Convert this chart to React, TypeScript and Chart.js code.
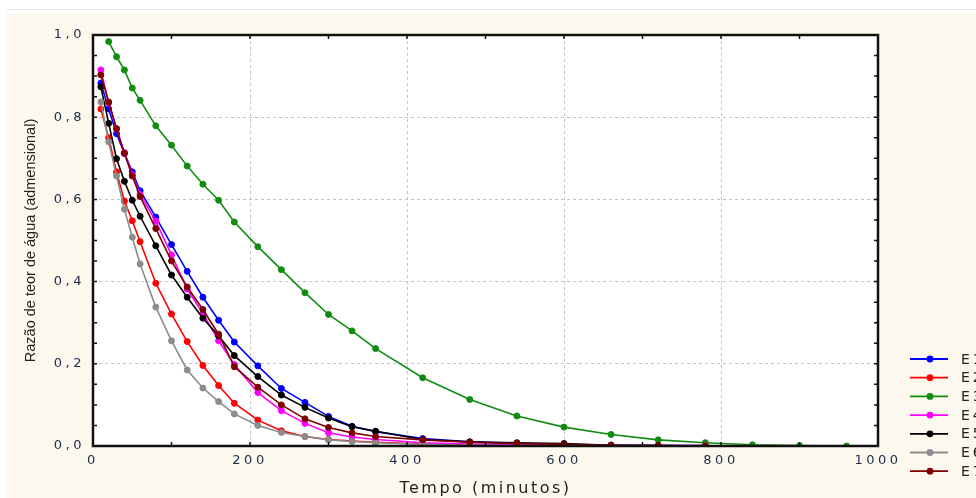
import React, { useEffect, useRef } from 'react';
import { Chart, registerables } from 'chart.js';

Chart.register(...registerables);

// ---------- data ----------
const seriesNames = ['E1', 'E2', 'E3', 'E4', 'E5', 'E6', 'E7'];
const seriesColors = ['#0000ff', '#ff0000', '#118c11', '#ff00ff', '#000000', '#8c8c8c', '#7f0000'];

const timesMain = [10, 20, 30, 40, 50, 60, 80, 100, 120, 140, 160, 180, 210, 240, 270, 300, 330, 360, 420, 480, 540, 600, 660, 720, 780];
const timesE3 = [20, 30, 40, 50, 60, 80, 100, 120, 140, 160, 180, 210, 240, 270, 300, 330, 360, 420, 480, 540, 600, 660, 720, 780, 840, 900, 960];

const e1 = [0.883, 0.82, 0.76, 0.712, 0.667, 0.621, 0.557, 0.49, 0.425, 0.362, 0.306, 0.253, 0.195, 0.14, 0.106, 0.072, 0.048, 0.035, 0.018, 0.01, 0.006, 0.004, 0.002, 0.001, 0.001];
const e2 = [0.82, 0.75, 0.667, 0.596, 0.548, 0.497, 0.396, 0.321, 0.254, 0.196, 0.147, 0.104, 0.063, 0.037, 0.023, 0.016, 0.012, 0.009, 0.005, 0.003, 0.002, 0.001, 0.001, 0.0, 0.0];
const e3 = [0.984, 0.947, 0.915, 0.871, 0.841, 0.779, 0.732, 0.681, 0.637, 0.598, 0.545, 0.485, 0.429, 0.373, 0.32, 0.28, 0.237, 0.166, 0.113, 0.073, 0.046, 0.028, 0.015, 0.008, 0.003, 0.001, 0.0];
const e4 = [0.915, 0.835, 0.772, 0.714, 0.66, 0.612, 0.547, 0.465, 0.382, 0.322, 0.256, 0.198, 0.13, 0.086, 0.055, 0.032, 0.022, 0.016, 0.008, 0.005, 0.003, 0.002, 0.001, 0.001, 0.001];
const e5 = [0.874, 0.785, 0.699, 0.644, 0.598, 0.559, 0.487, 0.416, 0.362, 0.311, 0.268, 0.22, 0.169, 0.124, 0.094, 0.068, 0.047, 0.036, 0.016, 0.01, 0.008, 0.006, 0.002, 0.001, 0.0];
const e6 = [0.837, 0.74, 0.657, 0.576, 0.508, 0.443, 0.338, 0.256, 0.185, 0.141, 0.108, 0.078, 0.05, 0.033, 0.023, 0.015, 0.011, 0.008, 0.004, 0.002, 0.001, 0.001, 0.0, 0.0, 0.0];
const e7 = [0.903, 0.837, 0.772, 0.712, 0.657, 0.607, 0.529, 0.45, 0.387, 0.332, 0.272, 0.193, 0.143, 0.1, 0.066, 0.045, 0.032, 0.023, 0.015, 0.009, 0.006, 0.004, 0.002, 0.001, 0.0];

const seriesValues = [e1, e2, e3, e4, e5, e6, e7];
const seriesTimes = [timesMain, timesMain, timesE3, timesMain, timesMain, timesMain, timesMain];

const xTickLabels = ['0', '200', '400', '600', '800', '1000'];
const yTickLabels = ['0,0', '0,2', '0,4', '0,6', '0,8', '1,0'];
const xMinorTicks = [100, 200, 300, 400, 500, 600, 700, 800, 900];
const yMinorTicks = [0.05, 0.1, 0.15, 0.2, 0.25, 0.3, 0.35, 0.4, 0.45, 0.5, 0.55, 0.6, 0.65, 0.7, 0.75, 0.8, 0.85, 0.9, 0.95];

const xTitle = 'Tempo (minutos)';
const yTitle = 'Razão de teor de água (admensional)';

// ---------- plugins ----------
const plotBackground = {
  id: 'plotBackground',
  beforeDraw(chart: any) {
    const { ctx, chartArea: a } = chart;
    ctx.save();
    ctx.fillStyle = '#ffffff';
    ctx.fillRect(a.left, a.top, a.right - a.left, a.bottom - a.top);
    ctx.restore();
    // letter spacing for axis texts
    Object.values(chart.scales).forEach((s: any) => {
      if (s.__patched) return;
      s.__patched = true;
      const origLabels = s.drawLabels;
      const origTitle = s.drawTitle;
      const labelSp = '3.5px';
      const titleSp = s.axis === 'x' ? '2.5px' : '0px';
      s.drawLabels = function (area: any) {
        const c = chart.ctx;
        c.save();
        c.letterSpacing = labelSp;
        origLabels.call(this, area);
        c.restore();
      };
      s.drawTitle = function () {
        const c = chart.ctx;
        c.save();
        c.letterSpacing = titleSp;
        origTitle.call(this);
        c.restore();
      };
    });
  },
};

const frameAndTicks = {
  id: 'frameAndTicks',
  afterDatasetsDraw(chart: any) {
    const { ctx, chartArea: a, scales } = chart;
    const x = scales.x;
    const y = scales.y;
    ctx.save();
    ctx.strokeStyle = '#111111';
    ctx.lineWidth = 1.5;
    ctx.beginPath();
    xMinorTicks.forEach((v) => {
      const px = x.getPixelForValue(v);
      ctx.moveTo(px, a.bottom);
      ctx.lineTo(px, a.bottom - 4);
      ctx.moveTo(px, a.top);
      ctx.lineTo(px, a.top + 4);
    });
    yMinorTicks.forEach((v) => {
      const py = y.getPixelForValue(v);
      ctx.moveTo(a.left, py);
      ctx.lineTo(a.left + 4, py);
      ctx.moveTo(a.right, py);
      ctx.lineTo(a.right - 4, py);
    });
    ctx.stroke();
    ctx.lineWidth = 2.5;
    ctx.strokeRect(a.left, a.top, a.right - a.left, a.bottom - a.top);
    ctx.restore();
  },
};

const sideLegend = {
  id: 'sideLegend',
  afterDraw(chart: any) {
    const { ctx, chartArea: a } = chart;
    const x0 = a.right + 32;
    const y0 = a.bottom - 87;
    const step = 18.7;
    ctx.save();
    chart.data.datasets.forEach((ds: any, i: number) => {
      const yy = y0 + i * step;
      ctx.strokeStyle = ds.borderColor;
      ctx.lineWidth = 1.8;
      ctx.beginPath();
      ctx.moveTo(x0, yy);
      ctx.lineTo(x0 + 38, yy);
      ctx.stroke();
      ctx.fillStyle = ds.borderColor;
      ctx.beginPath();
      ctx.arc(x0 + 20, yy, 3.4, 0, Math.PI * 2);
      ctx.fill();
      ctx.fillStyle = '#222222';
      ctx.font = '14px "DejaVu Sans"';
      ctx.letterSpacing = '3px';
      ctx.textAlign = 'left';
      ctx.textBaseline = 'middle';
      ctx.fillText(ds.label, x0 + 51, yy + 1);
      ctx.letterSpacing = '0px';
    });
    ctx.restore();
  },
};

export default function App() {
  const ref = useRef<HTMLCanvasElement | null>(null);

  useEffect(() => {
    if (!ref.current) return;
    const datasets = seriesNames.map((name, i) => ({
      label: name,
      data: seriesTimes[i].map((t, k) => ({ x: t, y: seriesValues[i][k] })),
      borderColor: seriesColors[i],
      backgroundColor: seriesColors[i],
      pointBackgroundColor: seriesColors[i],
      pointBorderColor: seriesColors[i],
      pointRadius: 3,
      pointBorderWidth: 1,
      borderWidth: 1.6,
      tension: 0,
      fill: false,
      clip: 0,
      order: seriesNames.length - i,
    }));

    const chart = new Chart(ref.current, {
      type: 'line',
      data: { datasets },
      options: {
        animation: false,
        responsive: false,
        devicePixelRatio: 1,
        events: [],
        layout: { padding: { top: 21, right: 98, bottom: 0, left: 0 } },
        plugins: {
          legend: { display: false },
          tooltip: { enabled: false },
          title: { display: false },
        },
        scales: {
          x: {
            type: 'linear',
            min: 0,
            max: 1000,
            afterFit: (s: any) => {
              s.height = 52;
            },
            ticks: {
              stepSize: 200,
              padding: 7,
              color: '#1c2a48',
              font: { family: '"DejaVu Sans"', size: 13 },
              maxRotation: 0,
              callback: (v: any) => xTickLabels[Math.round(Number(v) / 200)] ?? '',
            },
            grid: {
              drawTicks: false,
              lineWidth: 1,
              color: (c: any) => (c.tick && (c.tick.value === 0 || c.tick.value === 1000) ? 'rgba(0,0,0,0)' : '#c4c4c4'),
            },
            border: { display: false, dash: [3, 3] },
            title: {
              display: true,
              text: xTitle,
              color: '#222222',
              font: { family: '"DejaVu Sans"', size: 16 },
              padding: { top: 0, bottom: 0 },
            },
          },
          y: {
            type: 'linear',
            min: 0,
            max: 1,
            afterFit: (s: any) => {
              s.width = 86;
            },
            ticks: {
              stepSize: 0.2,
              padding: 8,
              color: '#1c2a48',
              font: { family: '"DejaVu Sans"', size: 13 },
              callback: (v: any) => yTickLabels[Math.round(Number(v) / 0.2)] ?? '',
            },
            grid: {
              drawTicks: false,
              lineWidth: 1,
              color: (c: any) => (c.tick && (c.tick.value <= 0.0001 || c.tick.value >= 0.9999) ? 'rgba(0,0,0,0)' : '#c4c4c4'),
            },
            border: { display: false, dash: [3, 3] },
            title: {
              display: true,
              text: yTitle,
              color: '#222222',
              font: { family: '"Liberation Sans", Arial, sans-serif', size: 14.5 },
              padding: { top: 15, bottom: 0 },
            },
          },
        },
      },
      plugins: [plotBackground, frameAndTicks, sideLegend],
    } as any);

    return () => chart.destroy();
  }, []);

  return (
    <div style={{ position: 'fixed', left: 0, top: 0, width: 976, height: 498, background: '#ffffff', overflow: 'hidden' }}>
      <div style={{ position: 'absolute', left: 7, top: 9, width: 969, height: 1, background: '#e6e6e6' }} />
      <div style={{ position: 'absolute', left: 7, top: 14, width: 969, height: 484, background: '#fdf8ee' }}>
        <canvas ref={ref} width={969} height={484} style={{ display: 'block' }} />
      </div>
    </div>
  );
}
